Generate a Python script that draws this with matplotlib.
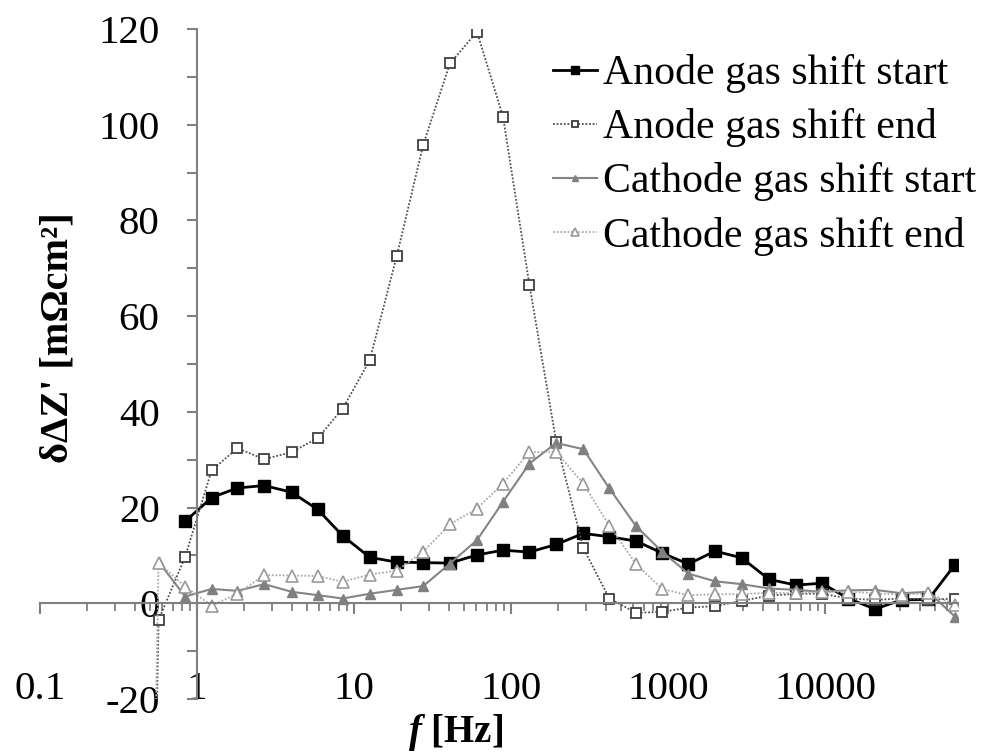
import matplotlib
matplotlib.use("Agg")
import matplotlib.pyplot as plt
from matplotlib.ticker import LogLocator, NullFormatter, FixedLocator

plt.rcParams['font.family'] = ['Liberation Serif', 'DejaVu Serif']
plt.rcParams['mathtext.fontset'] = 'custom'
plt.rcParams['mathtext.it'] = 'Liberation Serif:italic:bold'
plt.rcParams['mathtext.rm'] = 'Liberation Serif:bold'

# ---- data ----
freq_a_start = [0.84, 1.24, 1.81, 2.68, 4.01, 5.87, 8.47, 12.6, 18.7, 27.6, 40.8, 60.7,
                88.9, 131, 194, 289, 423, 626, 916, 1347, 1992, 2945, 4396, 6534,
                9526, 14070, 20810, 30780, 45510, 67300]
anode_start = [17.1, 22.1, 24.1, 24.6, 23.2, 19.6, 14.1, 9.6, 8.6, 8.5, 8.4, 10.1,
               11.1, 10.7, 12.3, 14.6, 13.9, 13.0, 10.5, 8.2, 10.9, 9.5, 5.0, 3.8,
               4.2, 1.0, -1.2, 0.7, 0.8, 8.1]

freq_a_end = [0.385, 0.569, 0.84, 1.24, 1.81, 2.68, 4.01, 5.87, 8.47, 12.6, 18.7, 27.6,
              40.8, 60.7, 88.9, 131, 194, 289, 423, 626, 916, 1347, 1992, 2945, 4396,
              6534, 9526, 14070, 20810, 30780, 45510, 67300]
anode_end = [-300, -3.5, 9.7, 27.8, 32.4, 30.1, 31.6, 34.5, 40.7, 50.8, 72.5, 95.8,
             112.8, 119.4, 101.7, 66.5, 33.8, 11.5, 1.0, -2.0, -1.8, -0.9, -0.6, 0.5, 1.6,
             2.0, 2.0, 1.0, 0.7, 1.0, 0.7, 1.0]

freq_c_start = [0.569, 0.84, 1.24, 1.81, 2.68, 4.01, 5.87, 8.47, 12.6, 18.7, 27.6,
                40.8, 60.7, 88.9, 131, 194, 289, 423, 626, 916, 1347, 1992, 2945, 4396,
                6534, 9526, 14070, 20810, 30780, 45510, 67300]
cathode_start = [8.7, 1.4, 3.0, 2.6, 4.0, 2.4, 1.7, 1.0, 2.0, 2.8, 3.6,
                 8.3, 13.2, 21.2, 29.2, 33.5, 32.2, 24.0, 16.1, 10.8, 6.2, 4.6, 4.0, 3.1,
                 2.8, 2.4, 2.7, 2.8, 2.1, 2.4, -2.8]

freq_c_end = [0.385, 0.569, 0.84, 1.24, 1.81, 2.68, 4.01, 5.87, 8.47, 12.6, 18.7, 27.6,
              40.8, 60.7, 88.9, 131, 194, 289, 423, 626, 916, 1347, 1992, 2945, 4396,
              6534, 9526, 14070, 20810, 30780, 45510, 67300]
cathode_end = [-300, 8.5, 3.5, -0.5, 2.0, 5.9, 5.8, 5.7, 4.5, 6.0, 6.8, 10.8,
               16.5, 19.8, 25.0, 31.6, 31.6, 25.0, 16.2, 8.2, 3.0, 1.7, 1.9, 1.9, 2.2,
               2.1, 2.4, 2.4, 2.1, 1.8, 2.1, -0.3]

labels = ["Anode gas shift start", "Anode gas shift end",
          "Cathode gas shift start", "Cathode gas shift end"]

xtick_vals = [0.1, 1, 10, 100, 1000, 10000]
xtick_labels = ["0.1", "1", "10", "100", "1000", "10000"]
ytick_vals = [-20, -10, 0, 10, 20, 30, 40, 50, 60, 70, 80, 90, 100, 110, 120]
ytick_labels = ["-20", "", "0", "", "20", "", "40", "", "60", "", "80", "", "100", "", "120"]

# ---- figure ----
fig = plt.figure(figsize=(9.9, 7.53), dpi=100)
ax = fig.add_axes([0.0404, 0.0717, 0.927, 0.8898])

dot = (0, (1, 1))
ax.plot(freq_a_start, anode_start, color='black', lw=2.0, ls='-',
        marker='s', ms=9, mfc='black', mec='black', label=labels[0])
ax.plot(freq_a_end, anode_end, color='#505050', lw=1.3, ls=dot,
        marker='s', ms=7, mfc='white', mec='#404040', mew=1.3, label=labels[1])
ax.plot(freq_c_start, cathode_start, color='#858585', lw=1.5, ls='-',
        marker='^', ms=6.5, mfc='#808080', mec='#808080', label=labels[2])
ax.plot(freq_c_end, cathode_end, color='#aaaaaa', lw=1.3, ls=dot,
        marker='^', ms=9, mfc='white', mec='#999999', mew=1.2, label=labels[3])

ax.set_xscale('log')
ax.set_xlim(0.1, 70000)
ax.set_ylim(-20, 120)

for s in ['top', 'right']:
    ax.spines[s].set_visible(False)
ax.spines['bottom'].set_position(('data', 0))
ax.spines['left'].set_position(('data', 1))
for s in ['bottom', 'left']:
    ax.spines[s].set_color('#808080')
    ax.spines[s].set_linewidth(1.5)

ax.xaxis.set_major_locator(FixedLocator(xtick_vals))
ax.set_xticklabels(xtick_labels)
ax.xaxis.set_minor_locator(LogLocator(base=10, subs=[2, 3, 4, 5, 6, 7, 8, 9], numticks=20))
ax.xaxis.set_minor_formatter(NullFormatter())
ax.set_yticks(ytick_vals)
ax.set_yticklabels(ytick_labels)

ax.tick_params(axis='x', which='major', direction='out', length=8, width=1.5,
               color='#808080', labelsize=29.5, pad=41)
ax.tick_params(axis='x', which='minor', direction='out', length=6, width=1.3,
               color='#808080')
ax.tick_params(axis='y', which='major', direction='out', length=7, width=1.5,
               color='#808080', labelsize=29.5, pad=20)

fig.text(0.059, 0.551, "δΔZ' [mΩcm²]", rotation=90, fontsize=29,
         fontweight='bold', ha='center', va='center')
fig.text(0.46, 0.027, r"$f$ [Hz]", fontsize=28, fontweight='bold',
         ha='center', va='center')

leg = ax.legend(loc='upper right', bbox_to_anchor=(0.986, 0.928),
                bbox_transform=fig.transFigure, frameon=False, fontsize=30.2,
                handlelength=1.05, handletextpad=0.15, labelspacing=0.36,
                borderpad=0, borderaxespad=0, markerscale=0.6)

fig.savefig("out.png", dpi=100)
